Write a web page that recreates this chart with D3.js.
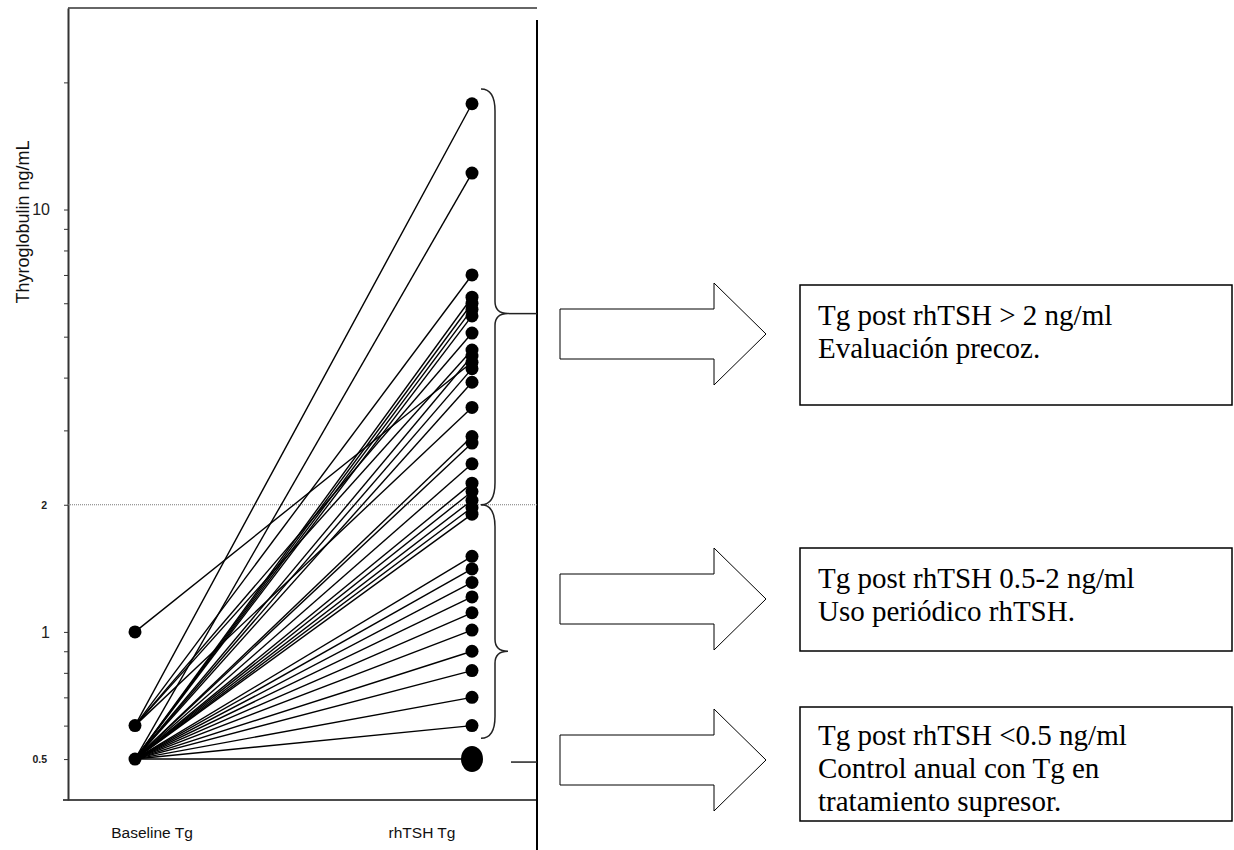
<!DOCTYPE html>
<html>
<head>
<meta charset="utf-8">
<script src="https://cdn.jsdelivr.net/npm/d3@7"></script>
<style>
  body { margin: 0; background: #fff; }
  svg { display: block; }
</style>
</head>
<body>
<svg id="chart"></svg>
<script>
// categories on the x axis
const groups = ["Baseline Tg", "rhTSH Tg"];

// one entry per patient line: baseline Tg and Tg after rhTSH (ng/mL)
const rhTSHValues = [17.8, 12.2, 7.0, 6.2, 6.0, 5.8, 5.6, 5.1, 4.65, 4.5, 4.35, 4.2,
  3.9, 3.4, 2.9, 2.8, 2.5, 2.25, 2.15, 2.05, 1.97, 1.9, 1.51, 1.41, 1.31, 1.21,
  1.11, 1.01, 0.9, 0.81, 0.7, 0.6, 0.5];
const baselineValues = [0.6, 0.5, 0.6, 0.5, 0.5, 0.5, 0.5, 0.6, 0.6, 0.5, 1.0, 0.5,
  0.5, 0.6, 0.5, 0.5, 0.5, 0.5, 0.5, 0.5, 0.5, 0.5, 0.5, 0.5, 0.5, 0.5,
  0.5, 0.5, 0.5, 0.5, 0.5, 0.5, 0.5];

// y ticks
const tickValues = [0.5, 0.6, 0.7, 0.8, 0.9, 1, 2, 3, 4, 5, 6, 7, 8, 9, 10, 20];
const tickLabels = { 0.5: "0.5", 1: "1", 2: "2", 10: "10" };
const cutoff = 2;

// brace ranges (top, tip, bottom) in ng/mL
const braces = [[19.3, 5.67, 2], [2, 0.9, 0.56]];

// annotation texts
const notes = [
  ["Tg post rhTSH > 2 ng/ml", "Evaluación precoz."],
  ["Tg post rhTSH 0.5-2 ng/ml", "Uso periódico rhTSH."],
  ["Tg post rhTSH <0.5 ng/ml", "Control anual con Tg en", "tratamiento supresor."]
];

const W = 1234, H = 850;
const svg = d3.select("#chart").attr("width", W).attr("height", H);

const y = d3.scaleLog().domain([0.4, 30]).range([800, 8]);
const x = d3.scalePoint().domain(groups).range([135, 472]);
const left = 68, right = 537;

// frame
svg.append("line").attr("x1", left).attr("x2", right).attr("y1", 8).attr("y2", 8)
  .attr("stroke", "#666").attr("stroke-width", 2);
svg.append("line").attr("x1", 63).attr("x2", right).attr("y1", 800).attr("y2", 800)
  .attr("stroke", "#111").attr("stroke-width", 1.5);
svg.append("line").attr("x1", right).attr("x2", right).attr("y1", 20).attr("y2", H)
  .attr("stroke", "#000").attr("stroke-width", 2);

// y axis
const big = d => d === 1 || d === 10;
const yAxis = svg.append("g").attr("transform", `translate(${left},0)`)
  .call(d3.axisLeft(y).tickValues(tickValues).tickSize(4).tickSizeOuter(0)
    .tickFormat(d => tickLabels[d] || ""));
yAxis.select(".domain").attr("stroke", "#333").attr("stroke-width", 2);
yAxis.selectAll(".tick line").attr("stroke", "#333");
yAxis.selectAll(".tick text")
  .attr("font-family", "Liberation Sans, Arial")
  .attr("fill", "#222")
  .attr("font-size", d => big(d) ? 16 : 10.5)
  .attr("font-weight", d => big(d) ? "normal" : "bold")
  .attr("x", d => big(d) ? -18 : -21);

svg.append("text")
  .attr("transform", "translate(29,222) rotate(-90)")
  .attr("text-anchor", "middle")
  .attr("font-family", "Liberation Sans, Arial").attr("font-size", 18)
  .attr("fill", "#111")
  .text("Thyroglobulin ng/mL");

// cutoff dotted line
svg.append("line").attr("x1", left).attr("x2", right)
  .attr("y1", y(cutoff)).attr("y2", y(cutoff))
  .attr("stroke", "#777").attr("stroke-width", 1).attr("stroke-dasharray", "1,1");

// x labels
const labelShift = { "Baseline Tg": 17, "rhTSH Tg": -50 };
svg.selectAll(".xlab").data(groups).enter().append("text")
  .attr("class", "xlab")
  .attr("x", d => x(d) + labelShift[d]).attr("y", 838)
  .attr("text-anchor", "middle")
  .attr("font-family", "Liberation Sans, Arial").attr("font-size", 15.5)
  .attr("fill", "#111")
  .text(d => d);

// patient lines
const pairs = rhTSHValues.map((v, i) => ({ base: baselineValues[i], post: v }));
svg.append("g").selectAll("line").data(pairs).enter().append("line")
  .attr("x1", x(groups[0])).attr("y1", d => y(d.base))
  .attr("x2", x(groups[1])).attr("y2", d => y(d.post))
  .attr("stroke", "#000").attr("stroke-width", 1.4);

// baseline dots
const baseUnique = Array.from(new Set(baselineValues));
svg.append("g").selectAll("circle").data(baseUnique).enter().append("circle")
  .attr("cx", x(groups[0])).attr("cy", d => y(d)).attr("r", 6.5).attr("fill", "#000");

// rhTSH dots (the 0.5 value holds many patients, drawn bigger)
svg.append("g").selectAll("ellipse").data(rhTSHValues).enter().append("ellipse")
  .attr("cx", x(groups[1])).attr("cy", d => y(d))
  .attr("rx", d => d === 0.5 ? 11 : 6.5).attr("ry", d => d === 0.5 ? 13 : 6.5)
  .attr("fill", "#000");

// curly braces
function bracePath(y0, ym, y1) {
  const x0 = 481, xv = 495, xt = 508, r = 22, rm = 12;
  return `M${x0},${y0} Q${xv},${y0} ${xv},${y0 + r} L${xv},${ym - rm} ` +
    `Q${xv},${ym} ${xt},${ym} Q${xv},${ym} ${xv},${ym + rm} ` +
    `L${xv},${y1 - r} Q${xv},${y1} ${x0},${y1}`;
}
svg.append("g").selectAll("path").data(braces).enter().append("path")
  .attr("d", d => bracePath(y(d[0]), y(d[1]), y(d[2])))
  .attr("fill", "none").attr("stroke", "#222").attr("stroke-width", 1.5);
svg.append("line").attr("x1", 508).attr("x2", right)
  .attr("y1", y(braces[0][1])).attr("y2", y(braces[0][1]))
  .attr("stroke", "#222").attr("stroke-width", 1.5);
svg.append("line").attr("x1", 511).attr("x2", right)
  .attr("y1", y(0.5) + 3).attr("y2", y(0.5) + 3)
  .attr("stroke", "#222").attr("stroke-width", 1.5);

// block arrows and text boxes
const arrowY = [334, 599, 760];
const boxes = [
  { x: 800, y: 285, w: 432, h: 120, base: 325 },
  { x: 800, y: 548, w: 432, h: 103, base: 588 },
  { x: 800, y: 707, w: 432, h: 114, base: 745 }
];
arrowY.forEach(cy => {
  const pts = [[560, cy - 25], [714, cy - 25], [714, cy - 51], [766, cy],
    [714, cy + 51], [714, cy + 25], [560, cy + 25]];
  svg.append("polygon").attr("points", pts.map(p => p.join(",")).join(" "))
    .attr("fill", "#fff").attr("stroke", "#000").attr("stroke-width", 1);
});
boxes.forEach((b, i) => {
  svg.append("rect").attr("x", b.x).attr("y", b.y).attr("width", b.w).attr("height", b.h)
    .attr("fill", "#fff").attr("stroke", "#000").attr("stroke-width", 1.5);
  svg.append("g").selectAll("text").data(notes[i]).enter().append("text")
    .attr("x", 818).attr("y", (d, j) => b.base + j * 33)
    .attr("font-family", "Liberation Serif, Times New Roman, serif")
    .attr("font-size", 29).attr("fill", "#000")
    .text(d => d);
});
</script>
</body>
</html>
